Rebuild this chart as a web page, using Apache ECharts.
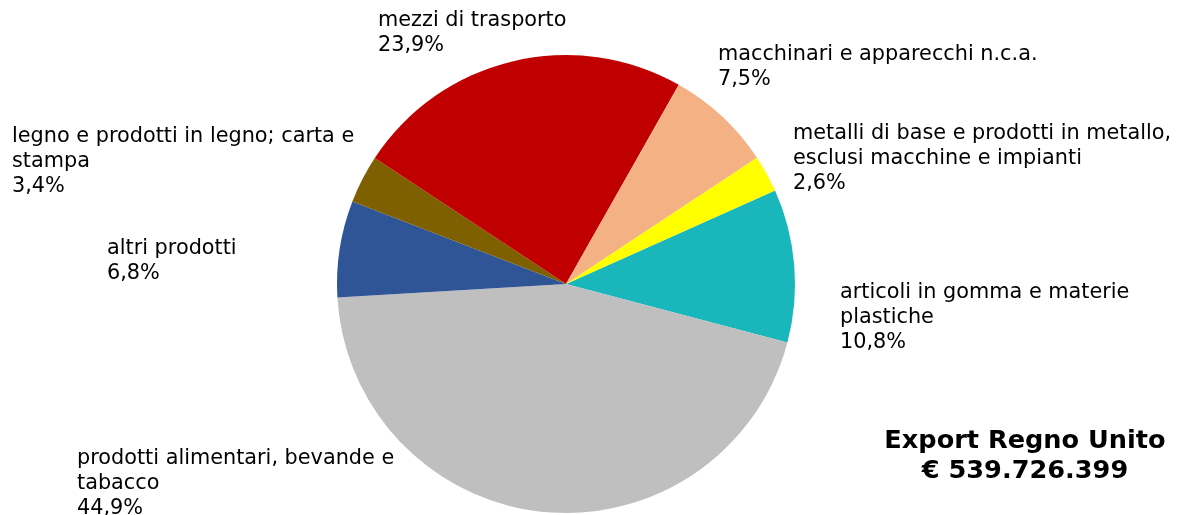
<!DOCTYPE html>
<html>
<head>
<meta charset="utf-8">
<script src="https://cdn.jsdelivr.net/npm/echarts@6/dist/echarts.min.js"></script>
<style>
  html, body { margin: 0; padding: 0; background: #ffffff; }
  #chart { width: 1180px; height: 515px; }
</style>
</head>
<body>
<div id="chart"></div>
<script>
// Categorie (in senso orario, partendo dalla fetta turchese)
const categories = [
  "articoli in gomma e materie\nplastiche",
  "prodotti alimentari, bevande e\ntabacco",
  "altri prodotti",
  "legno e prodotti in legno; carta e\nstampa",
  "mezzi di trasporto",
  "macchinari e apparecchi n.c.a.",
  "metalli di base e prodotti in metallo,\nesclusi macchine e impianti"
];

// Quote percentuali
const shares = [10.8, 44.9, 6.8, 3.4, 23.9, 7.5, 2.6];

const sliceColors = ["#19b6bc", "#bfbfbf", "#2f5597", "#7f6000", "#c00000", "#f4b183", "#ffff00"];

const totalLabel = ["Export Regno Unito", "€ 539.726.399"];

document.addEventListener("DOMContentLoaded", () => {
  const chart = echarts.init(document.getElementById("chart"));

  // Posizione (angolo in alto a sinistra) delle etichette, come nel riferimento
  const labelAnchors = [
    [840, 280], [77, 446], [107, 236], [12, 124], [378, 8], [718, 42], [793, 121]
  ];

  const option = {
    backgroundColor: "#ffffff",
    animation: false,
    title: {
      text: totalLabel.join("\n"),
      left: 1020,
      top: 421,
      textAlign: "center",
      textStyle: {
        fontFamily: "DejaVu Sans",
        fontWeight: "bold",
        fontSize: 25.6,
        lineHeight: 30,
        color: "#000000"
      }
    },
    series: [{
      type: "pie",
      center: [566, 284],
      radius: 229,
      startAngle: 24.1,
      clockwise: true,
      avoidLabelOverlap: false,
      itemStyle: { borderWidth: 0 },
      label: {
        show: true,
        position: "outside",
        fontFamily: "DejaVu Sans",
        fontSize: 20.8,
        lineHeight: 25,
        color: "#000000",
        formatter: p => p.name + "\n" + p.value.toFixed(1).replace(".", ",") + "%"
      },
      labelLine: { show: false },
      labelLayout: p => ({
        x: labelAnchors[p.dataIndex][0],
        y: labelAnchors[p.dataIndex][1],
        align: "left",
        verticalAlign: "top"
      }),
      emphasis: { disabled: true },
      data: categories.map((name, i) => ({
        name: name,
        value: shares[i],
        itemStyle: { color: sliceColors[i] }
      }))
    }]
  };

  chart.setOption(option);
  window.addEventListener("resize", () => chart.resize());
});
</script>
</body>
</html>
